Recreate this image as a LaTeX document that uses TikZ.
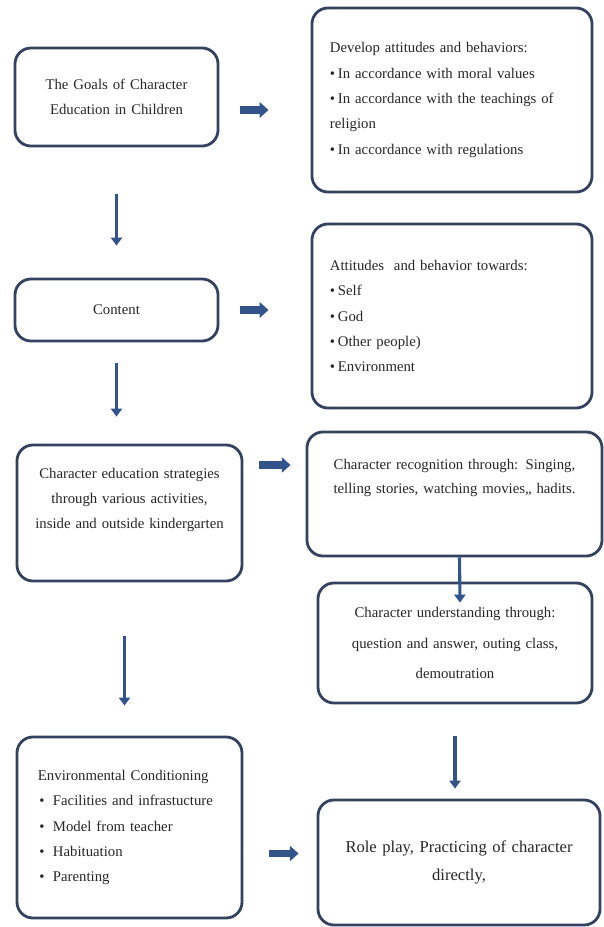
\documentclass[tikz,border=0pt]{standalone}
\usepackage{fontspec}
\setmainfont{Liberation Serif}
\usetikzlibrary{arrows.meta,calc}
\definecolor{boxline}{RGB}{52,66,96}
\definecolor{arrowblue}{RGB}{50,84,138}
\tikzset{
  box/.style={draw=boxline, line width=2pt, rounded corners=0.4cm, text=black!85,
    inner sep=0pt, font=\fontsize{10.5}{18}\selectfont},
  harrow/.style={arrowblue, line width=5pt, -{Triangle[length=0.22cm,width=0.38cm]}},
  varrow/.style={arrowblue, line width=2.6pt, -{Triangle[length=0.2cm,width=0.28cm]}},
}

\begin{document}
\begin{tikzpicture}[x=0.025cm,y=-0.025cm]
    \useasboundingbox (0,0) rectangle (604,927);

    \node[box, minimum width=5.075cm, minimum height=2.45cm, text width=5.075cm, align=center] (goals) at (116.5,97) {The Goals of Character\\Education in Children};
    \node[box, minimum width=7cm, minimum height=4.6cm, text width=6.1cm, inner xsep=0.45cm, align=left] (develop) at (452,100) {Develop attitudes and behaviors:\\\textbullet\hspace{2pt}In accordance with moral values\\\textbullet\hspace{2pt}In accordance with the teachings of\\religion\\\textbullet\hspace{2pt}In accordance with regulations};

    \node[box, minimum width=5.075cm, minimum height=1.55cm, text width=5.075cm, align=center] (content) at (116.5,310) {Content};
    \node[box, minimum width=7cm, minimum height=4.6cm, text width=6.1cm, inner xsep=0.45cm, align=left] (attitudes) at (452,316) {Attitudes\ \ and behavior towards:\\\textbullet\hspace{2pt}Self\\\textbullet\hspace{2pt}God\\\textbullet\hspace{2pt}Other people)\\\textbullet\hspace{2pt}Environment};

    \node[box, minimum width=5.625cm, minimum height=3.4cm, text width=5.625cm, align=center, font=\fontsize{10.5}{17.5}\selectfont] (strategies) at (129.5,513) {Character education strategies\\through various activities,\\inside and outside kindergarten\par\vspace{0.65cm}};
    \node[box, minimum width=7.375cm, minimum height=3.1cm, text width=7.375cm, align=center, font=\fontsize{10.5}{17.5}\selectfont] (recognition) at (454.5,494) {Character recognition through: Singing,\\telling stories, watching movies,, hadits.\par\vspace{0.8cm}};
    \node[box, minimum width=6.85cm, minimum height=3cm, text width=6.85cm, align=center, font=\fontsize{10.5}{21.5}\selectfont] (understanding) at (455,643) {Character understanding through:\\question and answer, outing class,\\demoutration};

    \node[box, minimum width=5.625cm, minimum height=4.525cm, text width=4.575cm, inner xsep=0.525cm, align=left] (environment) at (129.5,827.5) {Environmental Conditioning\\\hspace{1pt}\textbullet\hspace{6pt}Facilities and infrastucture\\\hspace{1pt}\textbullet\hspace{6pt}Model from teacher\\\hspace{1pt}\textbullet\hspace{6pt}Habituation\\\hspace{1pt}\textbullet\hspace{6pt}Parenting};
    \node[box, minimum width=7.05cm, minimum height=3.125cm, text width=7.05cm, align=center, font=\fontsize{11.8}{20}\selectfont] (roleplay) at (459,862.5) {Role play, Practicing of character\\directly,};

    \draw[harrow, shorten <=0.525cm, shorten >=1.05cm] ($(goals.east)+(0,13)$) -- ($(goals.east -| develop.west)+(0,13)$);
    \draw[harrow, shorten <=0.525cm, shorten >=1.05cm] (content.east) -- (content.east -| attitudes.west);
    \draw[harrow, shorten <=0.4cm, shorten >=0.375cm] ($(strategies.east)+(0,-48)$) -- ($(strategies.east -| recognition.west)+(0,-48)$);
    \draw[harrow, shorten <=0.65cm, shorten >=0.45cm] ($(environment.east)+(0,26)$) -- ($(environment.east -| roleplay.west)+(0,26)$);

    \draw[varrow, shorten <=1.175cm, shorten >=0.8cm] (goals.south) -- (content.north);
    \draw[varrow, shorten <=0.525cm, shorten >=0.675cm] (content.south) -- (content.south |- strategies.north);
    \draw[varrow, shorten <=1.35cm, shorten >=0.75cm] ($(strategies.south)+(-5,0)$) -- ($(environment.north)+(-5,0)$);
    \draw[varrow, line width=2.2pt] ($(recognition.south)+(5,0)$) -- ($(understanding.north)+(5,21)$);
    \draw[varrow, shorten <=0.8cm, shorten >=0.25cm] (understanding.south) -- (understanding.south |- roleplay.north);
\end{tikzpicture}
\end{document}
